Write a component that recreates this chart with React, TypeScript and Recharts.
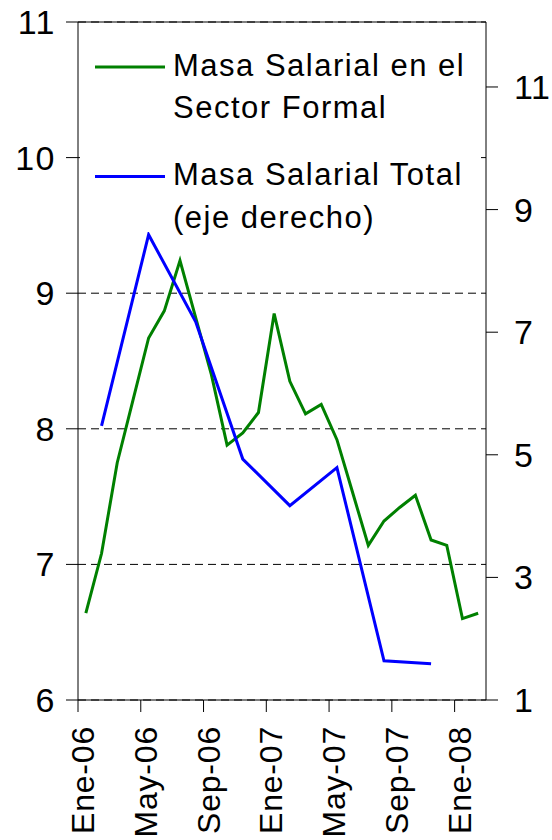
import React from 'react';
import { LineChart, Line, XAxis, YAxis, CartesianGrid, ReferenceLine, Legend } from 'recharts';

const months = [
  'Ene-06', 'Feb-06', 'Mar-06', 'Abr-06', 'May-06', 'Jun-06', 'Jul-06', 'Ago-06', 'Sep-06', 'Oct-06', 'Nov-06', 'Dic-06',
  'Ene-07', 'Feb-07', 'Mar-07', 'Abr-07', 'May-07', 'Jun-07', 'Jul-07', 'Ago-07', 'Sep-07', 'Oct-07', 'Nov-07', 'Dic-07',
  'Ene-08', 'Feb-08',
];

const formalSector = [
  6.64, 7.08, 7.75, 8.21, 8.67, 8.87, 9.24, 8.82, 8.4, 7.88, 7.97, 8.12,
  8.85, 8.35, 8.11, 8.18, 7.92, 7.53, 7.14, 7.32, 7.42, 7.51, 7.18, 7.14,
  6.6, 6.64,
];

const totalPayroll: (number | null)[] = [
  null, 5.47, null, null, 8.59, null, null, 7.17, null, null, 4.93, null,
  null, 4.17, null, null, 4.79, null, null, 1.64, null, null, 1.59, null,
  null, null,
];

const leftTicks = [6, 7, 8, 9, 10, 11];
const rightTicks = [1, 3, 5, 7, 9, 11];
const xTickLabels = ['Ene-06', 'May-06', 'Sep-06', 'Ene-07', 'May-07', 'Sep-07', 'Ene-08'];

const legendLines = [
  { color: '#008000', lines: ['Masa Salarial en el', 'Sector Formal'] },
  { color: '#0000FF', lines: ['Masa Salarial Total', '(eje derecho)'] },
];

const data = months.map((m, i) => ({
  idx: i,
  month: m,
  formal: formalSector[i],
  total: totalPayroll[i],
}));

const xTicks = xTickLabels.map((l) => months.indexOf(l) - 0.5);

const FONT = '"Liberation Sans", Arial, sans-serif';

const XTick = (props: any) => {
  const { x, y, payload } = props;
  const label = months[Math.round(payload.value + 0.5)];
  return (
    <g transform={`translate(${x},${y})`}>
      <text
        transform="rotate(-90)"
        x={-14}
        y={16}
        textAnchor="end"
        fontSize={32}
        fontFamily={FONT}
        letterSpacing={0.8}
        fill="#000"
      >
        {label}
      </text>
    </g>
  );
};

const LegendContent = () => (
  <svg width={396} height={202} style={{ display: 'block', overflow: 'visible' }}>
    {legendLines.map((item, k) => {
      const base = k * 109.5;
      return (
        <g key={k}>
          <line x1={15} x2={85} y1={37 + base} y2={37 + base} stroke={item.color} strokeWidth={3} />
          {item.lines.map((t, j) => (
            <text
              key={j}
              x={93}
              y={45.7 + base + j * 42.5}
              fontSize={31}
              fontFamily={FONT}
              letterSpacing={1.5}
              fill="#000"
            >
              {t}
            </text>
          ))}
        </g>
      );
    })}
  </svg>
);

export default function App() {
  return (
    <div style={{ position: 'absolute', left: 0, top: 0, width: 552, height: 840, background: '#fff' }}>
      <LineChart width={552} height={840} data={data} margin={{ top: 22, right: 0, left: 0, bottom: 0 }}>
        <CartesianGrid
          yAxisId="left"
          horizontal
          vertical={false}
          stroke="#000"
          strokeDasharray="8 5"
        />
        <XAxis
          dataKey="idx"
          type="number"
          domain={[-0.5, 25.5]}
          ticks={xTicks}
          interval={0}
          height={140}
          tickSize={12}
          tickMargin={0}
          axisLine={{ stroke: '#000' }}
          tickLine={{ stroke: '#000' }}
          tick={<XTick />}
        />
        <YAxis
          yAxisId="left"
          domain={[6, 11]}
          ticks={leftTicks}
          interval={0}
          width={78}
          tickSize={12}
          tickMargin={10}
          axisLine={{ stroke: '#000' }}
          tickLine={{ stroke: '#000' }}
          tick={{ fill: '#000', fontSize: 34, fontFamily: FONT, letterSpacing: 1.5 }}
        />
        <YAxis
          yAxisId="right"
          orientation="right"
          domain={[1, 12.06]}
          ticks={rightTicks}
          interval={0}
          width={66}
          tickSize={12}
          tickMargin={16}
          axisLine={{ stroke: '#000' }}
          tickLine={{ stroke: '#000' }}
          tick={{ fill: '#000', fontSize: 34, fontFamily: FONT, letterSpacing: 0.5 }}
        />
        <ReferenceLine yAxisId="left" y={11} stroke="#000" strokeWidth={1} />
        <Line
          yAxisId="left"
          type="linear"
          dataKey="formal"
          stroke="#008000"
          strokeWidth={3}
          dot={false}
          isAnimationActive={false}
        />
        <Line
          yAxisId="right"
          type="linear"
          dataKey="total"
          stroke="#0000FF"
          strokeWidth={3}
          dot={false}
          connectNulls
          isAnimationActive={false}
        />
        <Legend
          layout="horizontal"
          verticalAlign="middle"
          align="center"
          content={<LegendContent />}
          wrapperStyle={{ left: 80, top: 30, width: 396, height: 202, background: '#fff' }}
        />
      </LineChart>
    </div>
  );
}
